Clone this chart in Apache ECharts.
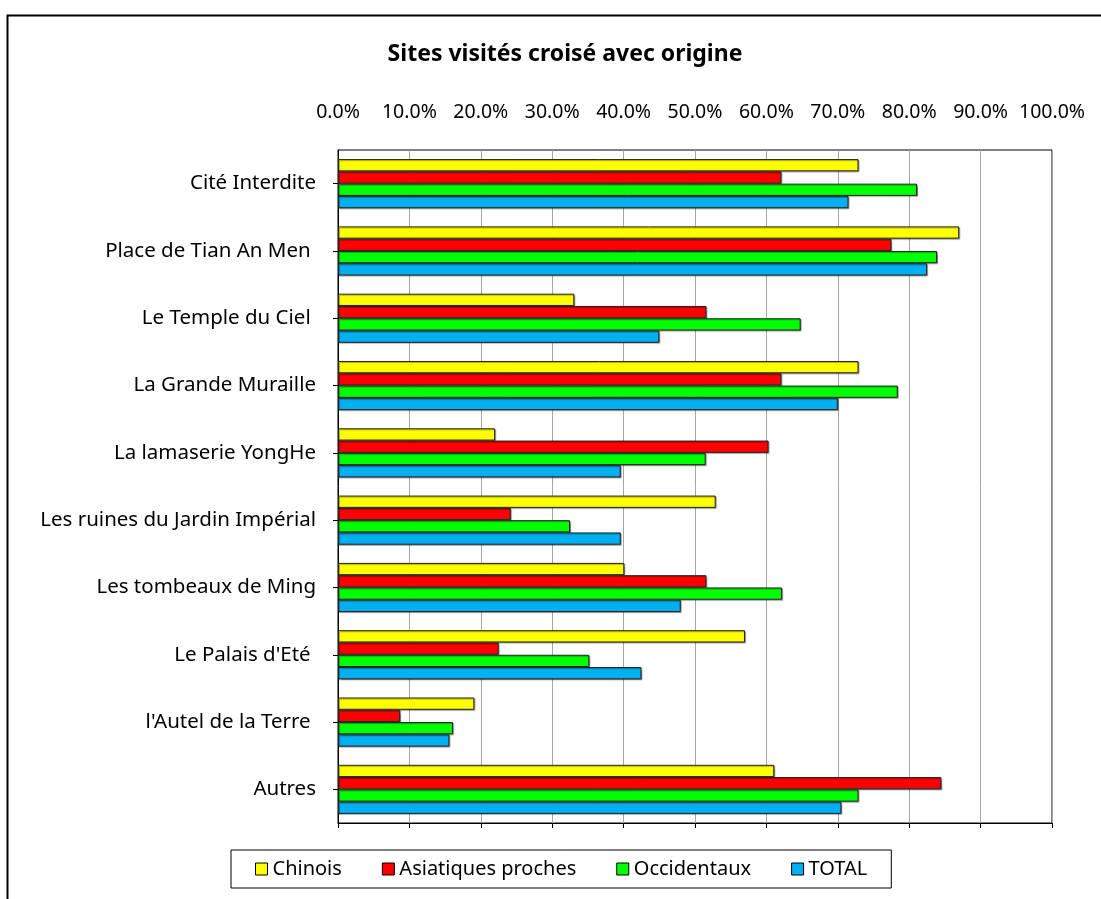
<!DOCTYPE html>
<html>
<head>
<meta charset="utf-8">
<script src="https://cdn.jsdelivr.net/npm/echarts@6/dist/echarts.min.js"></script>
<style>
html, body { margin: 0; padding: 0; background: #fff; }
#chart { width: 1101px; height: 899px; }
</style>
</head>
<body>
<div id="chart"></div>
<script>
// data (percent)
const sites = ['Cité Interdite', 'Place de Tian An Men ', 'Le Temple du Ciel ', 'La Grande Muraille',
    'La lamaserie YongHe', 'Les ruines du Jardin Impérial', 'Les tombeaux de Ming', "Le Palais d'Eté ",
    "l'Autel de la Terre ", 'Autres'];
const chinois     = [72.9, 87.0, 33.1, 72.9, 22.0, 52.9, 40.1, 57.0, 19.1, 61.1];
const asiatiques  = [62.1, 77.5, 51.6, 62.1, 60.3, 24.2, 51.6, 22.5,  8.7, 84.5];
const occidentaux = [81.1, 83.9, 64.8, 78.4, 51.5, 32.5, 62.2, 35.2, 16.1, 72.9];
const total       = [71.5, 82.5, 45.0, 70.0, 39.6, 39.6, 48.0, 42.5, 15.6, 70.5];
const seriesNames = ['Chinois', 'Asiatiques proches', 'Occidentaux', 'TOTAL'];
const colors = ['#FFFF00', '#FF0000', '#00FF00', '#00B0F0'];

const font = "'Noto Sans', sans-serif";

function bar(name, data, color) {
    return {
        name: name,
        type: 'bar',
        xAxisIndex: 0,
        data: data,
        barGap: '0%',
        barCategoryGap: '27%',
        itemStyle: {
            color: color,
            borderColor: '#222',
            borderWidth: 1,
            shadowColor: 'rgba(0,0,0,0.35)',
            shadowOffsetX: 1,
            shadowOffsetY: 1,
            shadowBlur: 1
        }
    };
}

let chart = echarts.init(document.getElementById('chart'));
chart.setOption({
    animation: false,
    color: colors,
    textStyle: { fontFamily: font },
    graphic: [{
        type: 'rect',
        left: 5, top: 13,
        shape: { width: 1200, height: 1000 },
        style: { fill: 'none', stroke: '#000', lineWidth: 2 },
        silent: true
    }],
    title: {
        text: 'Sites visités croisé avec origine',
        left: 560,
        textAlign: 'center',
        top: 38,
        textStyle: { fontFamily: font, fontSize: 23, fontWeight: 'bold', color: '#000' }
    },
    legend: {
        data: seriesNames,
        left: 231,
        top: 850,
        padding: [9, 24, 9, 24],
        itemGap: 40,
        itemWidth: 12,
        itemHeight: 12,
        icon: 'rect',
        borderColor: '#000',
        borderWidth: 1,
        itemStyle: { borderColor: '#000', borderWidth: 1, shadowBlur: 0, shadowOffsetX: 0, shadowOffsetY: 0 },
        textStyle: { fontFamily: font, fontSize: 20, color: '#000', padding: [0, 0, 0, 0] }
    },
    grid: {
        left: 338,
        right: 49,
        top: 150,
        bottom: 76,
        show: true,
        borderColor: '#000',
        borderWidth: 1
    },
    xAxis: [{
        type: 'value',
        position: 'top',
        min: 0,
        max: 100,
        interval: 10,
        axisLine: { show: false },
        axisTick: { show: false },
        splitLine: { show: true, lineStyle: { color: '#A6A6A6', width: 1 } },
        axisLabel: {
            margin: 28,
            fontSize: 19.5,
            color: '#000',
            formatter: v => v.toFixed(1) + '%'
        }
    }, {
        type: 'value',
        position: 'bottom',
        min: 0,
        max: 100,
        interval: 10,
        axisLine: { show: true, lineStyle: { color: '#000' } },
        axisTick: { show: true, length: 5, lineStyle: { color: '#000' } },
        splitLine: { show: false },
        axisLabel: { show: false }
    }],
    yAxis: {
        type: 'category',
        inverse: true,
        data: sites,
        axisLine: { show: true, lineStyle: { color: '#000' } },
        axisTick: { show: true, alignWithLabel: true, length: 5, lineStyle: { color: '#000' } },
        axisLabel: { fontSize: 20.5, color: '#000', margin: 22 }
    },
    series: [
        bar(seriesNames[0], chinois, colors[0]),
        bar(seriesNames[1], asiatiques, colors[1]),
        bar(seriesNames[2], occidentaux, colors[2]),
        bar(seriesNames[3], total, colors[3])
    ]
});
</script>
</body>
</html>
